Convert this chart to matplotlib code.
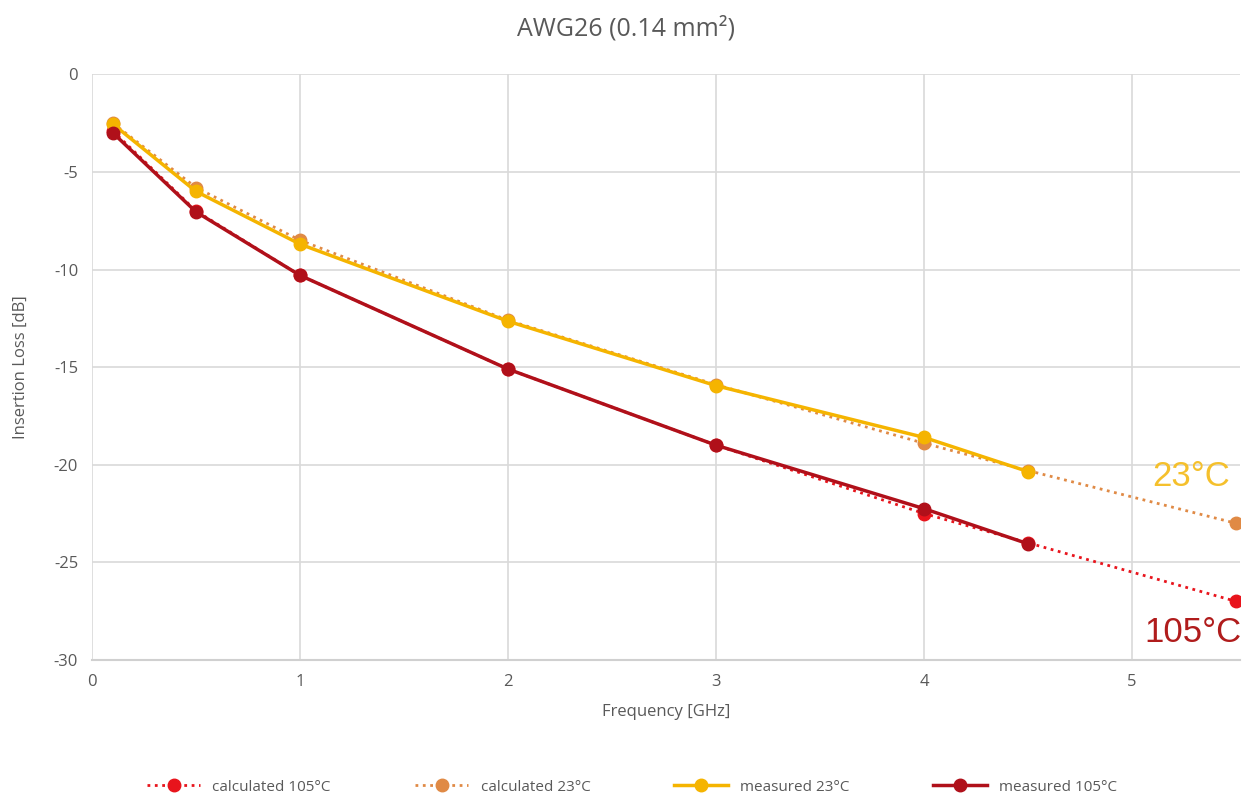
import matplotlib
matplotlib.use("Agg")
import matplotlib.pyplot as plt

freq_meas = [0.1, 0.5, 1, 2, 3, 4, 4.5]
freq_calc = [0.1, 0.5, 1, 2, 3, 4, 4.5, 5.5]
calc_105 = [-2.9, -7.0, -10.3, -15.1, -19.0, -22.5, -24.0, -27.0]
calc_23 = [-2.5, -5.8, -8.5, -12.6, -15.9, -18.9, -20.3, -23.0]
meas_23 = [-2.55, -6.0, -8.7, -12.65, -15.95, -18.6, -20.35]
meas_105 = [-3.0, -7.05, -10.3, -15.1, -19.0, -22.25, -24.05]

plt.rcParams['font.family'] = ['Open Sans', 'DejaVu Sans']
plt.rcParams['axes.unicode_minus'] = False

fig = plt.figure(figsize=(12.44, 7.99), dpi=100)
ax = fig.add_axes([0.074, 0.174, 0.923, 0.733])

c_calc105 = '#e8141c'
c_calc23 = '#e08a45'
c_meas23 = '#f5b400'
c_meas105 = '#b0101a'

ax.plot(freq_calc, calc_105, ':', color=c_calc105, lw=2, marker='o', ms=9, label='calculated 105°C', zorder=3)
ax.plot(freq_calc, calc_23, ':', color=c_calc23, lw=2, marker='o', ms=9, label='calculated 23°C', zorder=3)
ax.plot(freq_meas, meas_23, '-', color=c_meas23, lw=2.5, marker='o', ms=9, label='measured 23°C', zorder=4)
ax.plot(freq_meas, meas_105, '-', color=c_meas105, lw=2.5, marker='o', ms=9, label='measured 105°C', zorder=4)

ax.set_xlim(0, 5.52)
ax.set_ylim(-30, 0)
ax.set_xticks([0, 1, 2, 3, 4, 5])
ax.set_yticks([0, -5, -10, -15, -20, -25, -30])
ax.grid(True, color='#d9d9d9', lw=1.2)
ax.set_axisbelow(True)
for s in ['top', 'right', 'left']:
    ax.spines[s].set_visible(False)
ax.spines['bottom'].set_color('#d0d0d0')
ax.spines['bottom'].set_linewidth(1.5)
ax.tick_params(length=0, labelsize=12, colors='#595959', pad=10)

ax.set_xlabel('Frequency [GHz]', fontsize=12, color='#595959', labelpad=10)
ax.set_ylabel('Insertion Loss [dB]', fontsize=12, color='#595959', labelpad=18)
fig.text(0.503, 0.964, 'AWG26 (0.14 mm²)', ha='center', va='center', fontsize=18, color='#595959')

ax.text(5.47, -20.6, '23°C', color='#f5c02c', fontsize=25, ha='right', va='center',
        family=['Liberation Sans', 'DejaVu Sans'])
ax.text(5.525, -28.6, '105°C', color='#b01c1c', fontsize=25, ha='right', va='center',
        family=['Liberation Sans', 'DejaVu Sans'])

fig.legend(loc='center', bbox_to_anchor=(0.508, 0.015), ncol=4, frameon=False, fontsize=11,
           labelcolor='#595959', handlelength=3.5, columnspacing=5.5)

fig.savefig('out.png', dpi=100)
